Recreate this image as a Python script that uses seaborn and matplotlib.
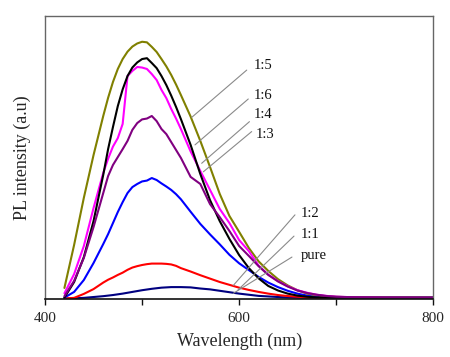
import matplotlib
matplotlib.use("Agg")
import matplotlib.pyplot as plt
from matplotlib.ticker import MultipleLocator, FixedLocator
import seaborn as sns
import pandas as pd

# ---- data ----
wavelength = [420, 430, 440, 450, 460, 465, 470, 475, 480, 485, 490, 495, 500, 505,
              510, 515, 520, 525, 530, 535, 540, 550, 560, 570, 580, 590, 600, 610,
              620, 630, 640, 650, 660, 670, 680, 690, 700, 720, 750, 800]

r_1_5 = [3.9, 19.1, 35.7, 50.8, 64.6, 71.0, 76.6, 81.2, 84.7, 87.3, 89.1, 90.2, 90.8, 90.6,
         89.0, 87.2, 84.7, 82.1, 79.1, 75.7, 72.0, 64.4, 55.8, 46.6, 37.1, 29.3, 23.7, 18.0,
         13.3, 9.9, 7.0, 4.8, 3.1, 1.9, 1.3, 0.95, 0.75, 0.6, 0.5, 0.45]
r_1_6 = [0.5, 6.0, 14.8, 27.5, 43.8, 52.9, 60.7, 68.1, 74.0, 78.7, 81.7, 83.5, 84.7, 85.0,
         83.3, 81.5, 78.7, 75.5, 71.8, 67.8, 63.5, 54.4, 44.1, 34.9, 27.5, 21.2, 15.5, 10.9,
         7.3, 4.6, 3.0, 1.9, 1.2, 0.8, 0.55, 0.5, 0.45, 0.45, 0.45, 0.45]
r_1_4 = [2.0, 8.8, 18.7, 32.1, 44.5, 49.5, 53.8, 56.8, 61.8, 78.7, 80.5, 81.9, 81.7, 81.2,
         79.4, 77.3, 73.8, 70.9, 67.1, 63.7, 60.0, 52.1, 45.2, 38.5, 31.8, 26.8, 20.8, 16.9,
         11.8, 8.6, 6.3, 4.5, 3.1, 2.2, 1.5, 1.1, 0.8, 0.6, 0.5, 0.45]
r_1_3 = [1.0, 6.4, 14.5, 25.4, 37.4, 43.4, 47.3, 50.1, 52.9, 55.8, 59.7, 62.1, 63.4, 63.7,
         64.6, 62.8, 60.0, 58.2, 55.4, 52.6, 49.8, 43.1, 40.6, 33.5, 28.9, 24.0, 18.7, 15.2,
         11.6, 8.5, 6.2, 4.4, 3.0, 2.1, 1.5, 1.05, 0.8, 0.6, 0.5, 0.45]
r_1_2 = [0.5, 2.5, 6.7, 12.7, 19.4, 22.9, 26.8, 30.7, 34.2, 37.4, 39.5, 40.6, 41.5, 41.8,
         42.7, 42.0, 40.8, 39.7, 38.5, 37.0, 35.2, 30.8, 26.5, 22.8, 19.3, 15.6, 12.6, 10.2,
         7.8, 5.8, 4.2, 2.9, 1.9, 1.2, 0.8, 0.6, 0.5, 0.45, 0.45, 0.45]
r_1_1 = [0.2, 0.4, 1.8, 3.5, 5.8, 6.8, 7.6, 8.5, 9.3, 10.3, 11.1, 11.6, 12.0, 12.3,
         12.5, 12.5, 12.5, 12.4, 12.2, 11.7, 10.9, 9.7, 8.4, 7.2, 6.0, 5.0, 4.0, 3.2,
         2.5, 1.9, 1.4, 1.05, 0.8, 0.6, 0.5, 0.45, 0.4, 0.4, 0.4, 0.4]
r_pure = [0.1, 0.25, 0.4, 0.7, 1.0, 1.2, 1.4, 1.65, 1.9, 2.2, 2.5, 2.8, 3.1, 3.35,
          3.6, 3.8, 4.0, 4.1, 4.2, 4.2, 4.2, 4.1, 3.7, 3.4, 2.9, 2.4, 1.9, 1.5,
          1.1, 0.9, 0.7, 0.55, 0.45, 0.4, 0.4, 0.4, 0.4, 0.4, 0.4, 0.4]

series_names = ["pure", "1:1", "1:2", "1:5", "1:4", "1:6", "1:3"]   # drawing order
series_values = {"pure": r_pure, "1:1": r_1_1, "1:2": r_1_2, "1:5": r_1_5,
                 "1:4": r_1_4, "1:6": r_1_6, "1:3": r_1_3}
colors = {"pure": "#000080", "1:1": "#ff0000", "1:2": "#0000ff", "1:5": "#808000",
          "1:4": "#ff00ff", "1:6": "#000000", "1:3": "#800080"}

x_ticks = [400, 600, 800]
x_label = "Wavelength (nm)"
y_label = "PL intensity (a.u)"

# label text positions (data coords) and leader-line endpoints
label_pos = {"1:5": (614.6, 82.4), "1:6": (614.6, 72.0), "1:4": (614.6, 65.2),
             "1:3": (617.3, 58.2), "1:2": (663.4, 30.2), "1:1": (663.4, 22.6),
             "pure": (663.4, 15.5)}
line_start = {"1:5": (607.8, 80.8), "1:6": (609.4, 70.6), "1:4": (610.6, 62.6),
              "1:3": (612.9, 59.1), "1:2": (657.5, 29.7), "1:1": (656.5, 22.2),
              "pure": (654.4, 14.8)}
line_end = {"1:5": (551.1, 64.1), "1:6": (554.5, 54.4), "1:4": (561.4, 47.9),
            "1:3": (563.1, 44.9), "1:2": (594.0, 4.8), "1:1": (598.8, 3.2),
            "pure": (594.0, 2.0)}

rows = []
for name in series_names:
    for w, v in zip(wavelength, series_values[name]):
        rows.append({"wavelength": w, "intensity": v, "sample": name})
df = pd.DataFrame(rows)

sns.set_style("white")
plt.rcParams["font.family"] = ["Liberation Serif", "DejaVu Serif"]

fig = plt.figure(figsize=(4.5, 3.57), dpi=100)
ax = fig.add_axes([45 / 450, 58 / 357, 388.3 / 450, 283.3 / 357])

sns.lineplot(data=df, x="wavelength", y="intensity", hue="sample",
             hue_order=series_names, palette=colors, estimator=None, sort=False,
             linewidth=1.5, legend=False, ax=ax)

for name in series_names:
    (x0, y0), (x1, y1) = line_start[name], line_end[name]
    ax.plot([x0, x1], [y0, y1], color="#8a8a8a", lw=0.8, zorder=5)
    tx, ty = label_pos[name]
    ax.text(tx, ty, name, ha="left", va="center", fontsize=10.5, color="#111111")

ax.set_xlim(400, 800)
ax.set_ylim(0, 100)
ax.xaxis.set_major_locator(FixedLocator(x_ticks))
ax.xaxis.set_minor_locator(MultipleLocator(100))
ax.set_yticks([])
ax.tick_params(axis="x", which="both", direction="out", length=4, width=1,
               color="#111111", bottom=True, labelsize=11, pad=5)
ax.set_xlabel(x_label, fontsize=13, labelpad=6)
ax.set_ylabel(y_label, fontsize=13, labelpad=10)

for side in ["top", "left", "right"]:
    ax.spines[side].set_color("#666666")
    ax.spines[side].set_linewidth(1.0)
ax.spines["bottom"].set_color("#111111")
ax.spines["bottom"].set_linewidth(1.2)

fig.savefig("out.png", dpi=100)
